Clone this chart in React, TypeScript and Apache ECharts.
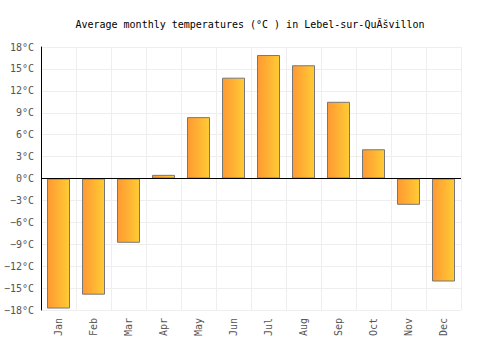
import React, { useEffect, useRef } from "react";
import * as echarts from "echarts";

const months = ["Jan", "Feb", "Mar", "Apr", "May", "Jun", "Jul", "Aug", "Sep", "Oct", "Nov", "Dec"];
const temps = [-17.8, -15.9, -8.8, 0.5, 8.4, 13.8, 16.9, 15.5, 10.5, 4.0, -3.6, -14.1];
const titleText = "Average monthly temperatures (°C ) in Lebel-sur-QuĂšvillon";

const FONT = "'DejaVu Sans Mono', monospace";

export default function App() {
  const ref = useRef<HTMLDivElement>(null);
  useEffect(() => {
    if (!ref.current) return;
    const chart = echarts.init(ref.current, undefined, { renderer: "svg" });
    chart.setOption({
      animation: false,
      title: {
        text: titleText,
        left: "center",
        top: 14,
        textStyle: { fontFamily: FONT, fontSize: 10, fontWeight: "normal", color: "#000" },
      },
      grid: { left: 41, right: 39, top: 47, bottom: 40, containLabel: false },
      xAxis: {
        type: "category",
        data: months,
        boundaryGap: true,
        axisLine: { show: false, onZero: false },
        axisTick: { show: false },
        axisLabel: { rotate: 90, color: "#555", fontFamily: FONT, fontSize: 10, margin: 8, interval: 0 },
        splitLine: { show: true, interval: 0, lineStyle: { color: "#eeeeee", width: 1 } },
      },
      yAxis: {
        type: "value",
        min: -18,
        max: 18,
        interval: 3,
        axisLine: { show: true, lineStyle: { color: "#000", width: 1 } },
        axisTick: { show: false },
        axisLabel: {
          color: "#555",
          fontFamily: FONT,
          fontSize: 10,
          margin: 7,
          formatter: (v: number) => (v < 0 ? "−" + Math.abs(v) : String(v)) + "°C",
        },
        splitLine: { show: true, lineStyle: { color: "#eeeeee", width: 1 } },
      },
      series: [
        {
          type: "bar",
          data: temps,
          barWidth: 23,
          itemStyle: {
            color: new echarts.graphic.LinearGradient(0, 0, 1, 0, [
              { offset: 0, color: "#ff9933" },
              { offset: 1, color: "#ffcc33" },
            ]),
            borderColor: "#777777",
            borderWidth: 1,
          },
          markLine: {
            silent: true,
            symbol: "none",
            label: { show: false },
            lineStyle: { color: "#000", type: "solid", width: 1 },
            data: [{ yAxis: 0 }],
          },
        },
      ],
    });
    return () => chart.dispose();
  }, []);
  return <div ref={ref} style={{ position: "absolute", left: 0, top: 0, width: 500, height: 350 }} />;
}
